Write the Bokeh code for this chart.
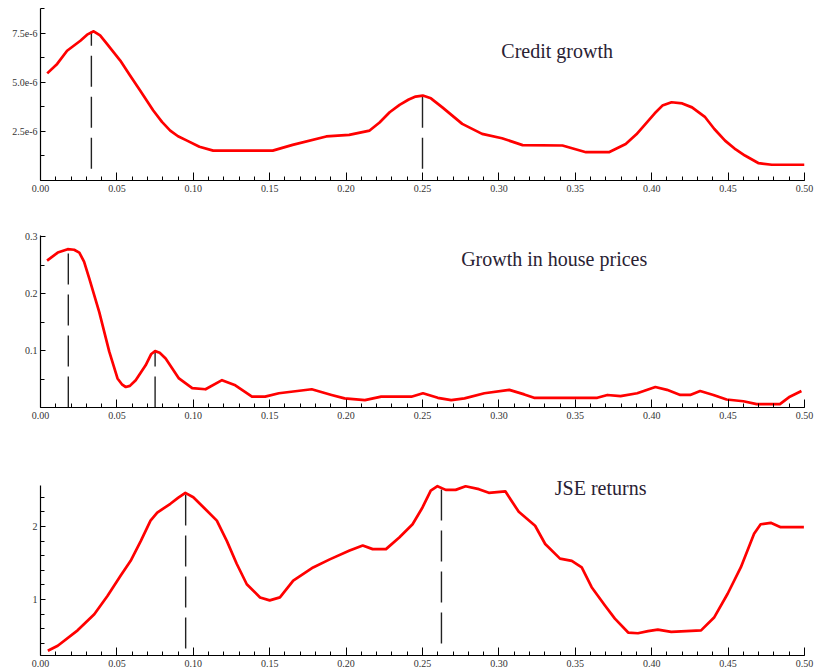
import numpy as np
from bokeh.plotting import figure
from bokeh.layouts import column
from bokeh.models import (Range1d, FixedTicker, PrintfTickFormatter,
                          CustomJSTickFormatter, Label)
from bokeh.embed import file_html
from bokeh.resources import INLINE

# ---------------- data ----------------
credit_freq = [0.0044, 0.0109, 0.0174, 0.0261, 0.0305, 0.0348, 0.039, 0.0435, 0.0522, 0.0585,
               0.0653, 0.0738, 0.0795, 0.0849, 0.090, 0.0959, 0.104, 0.113, 0.152, 0.165,
               0.187, 0.202, 0.2154, 0.2219, 0.2285, 0.235, 0.241, 0.2455, 0.2502, 0.2555,
               0.263, 0.276, 0.289, 0.302, 0.3155, 0.3416, 0.357, 0.372, 0.383, 0.390,
               0.396, 0.402, 0.407, 0.413, 0.420, 0.4264, 0.435, 0.441, 0.448, 0.455,
               0.461, 0.470, 0.4786, 0.5]
credit_val = [5.45e-6, 5.93e-6, 6.6e-6, 7.11e-6, 7.42e-6, 7.59e-6, 7.38e-6, 6.95e-6, 6.1e-6, 5.35e-6,
              4.57e-6, 3.56e-6, 2.98e-6, 2.54e-6, 2.25e-6, 2.03e-6, 1.72e-6, 1.52e-6, 1.52e-6, 1.81e-6,
              2.24e-6, 2.32e-6, 2.54e-6, 2.95e-6, 3.47e-6, 3.85e-6, 4.12e-6, 4.27e-6, 4.32e-6, 4.18e-6,
              3.72e-6, 2.88e-6, 2.37e-6, 2.15e-6, 1.80e-6, 1.78e-6, 1.44e-6, 1.44e-6, 1.86e-6, 2.35e-6,
              2.88e-6, 3.42e-6, 3.81e-6, 3.98e-6, 3.92e-6, 3.72e-6, 3.22e-6, 2.62e-6, 2.03e-6, 1.58e-6,
              1.27e-6, 0.88e-6, 0.80e-6, 0.80e-6]
credit_peak_freq = [0.0333, 0.25]
credit_peak_top = [7.59e-6, 4.32e-6]
credit_peak_bottom = [0.6e-6, 0.6e-6]

house_freq = [0.0043, 0.0113, 0.0178, 0.022, 0.0254, 0.0285, 0.032, 0.0385, 0.045, 0.0504,
              0.0535, 0.0558, 0.0585, 0.0623, 0.0688, 0.0725, 0.075, 0.078, 0.0819, 0.0906,
              0.0993, 0.108, 0.1188, 0.1275, 0.1384, 0.147, 0.156, 0.1775, 0.1905, 0.199,
              0.2123, 0.223, 0.2427, 0.2503, 0.26, 0.2688, 0.2775, 0.2905, 0.3068, 0.3166,
              0.323, 0.3644, 0.371, 0.3796, 0.3905, 0.4024, 0.41, 0.4187, 0.4252, 0.4317,
              0.4404, 0.449, 0.46, 0.4687, 0.4839, 0.4904, 0.498]
house_val = [0.258, 0.272, 0.278, 0.277, 0.272, 0.256, 0.226, 0.167, 0.098, 0.051,
             0.040, 0.036, 0.038, 0.048, 0.074, 0.094, 0.099, 0.096, 0.086, 0.051,
             0.034, 0.032, 0.048, 0.039, 0.019, 0.019, 0.025, 0.032, 0.022, 0.016,
             0.013, 0.019, 0.019, 0.025, 0.017, 0.013, 0.016, 0.025, 0.031, 0.023,
             0.017, 0.017, 0.022, 0.020, 0.025, 0.036, 0.031, 0.022, 0.022, 0.029,
             0.022, 0.014, 0.011, 0.006, 0.006, 0.019, 0.029]
house_peak_freq = [0.0182, 0.075]
house_peak_top = [0.278, 0.099]
house_peak_bottom = [0.0, 0.0]

jse_freq = [0.0048, 0.0113, 0.0243, 0.0352, 0.0438, 0.0525, 0.059, 0.0656, 0.072, 0.0764,
            0.085, 0.090, 0.0948, 0.100, 0.1068, 0.1154, 0.122, 0.1284, 0.135, 0.1437,
            0.150, 0.1567, 0.1654, 0.1784, 0.1893, 0.2023, 0.2109, 0.2174, 0.2261, 0.2348,
            0.2435, 0.25, 0.2554, 0.2598, 0.2652, 0.2717, 0.2782, 0.2869, 0.2934, 0.3042,
            0.313, 0.3237, 0.3303, 0.34, 0.3477, 0.3542, 0.3607, 0.3694, 0.3759, 0.3846,
            0.391, 0.3976, 0.404, 0.4128, 0.4323, 0.441, 0.4497, 0.4583, 0.467, 0.4713,
            0.4779, 0.4844, 0.4996]
jse_val = [0.30, 0.37, 0.58, 0.80, 1.05, 1.33, 1.53, 1.80, 2.08, 2.19,
           2.31, 2.39, 2.46, 2.40, 2.26, 2.08, 1.80, 1.49, 1.21, 1.03,
           0.99, 1.03, 1.26, 1.44, 1.55, 1.67, 1.74, 1.69, 1.69, 1.85,
           2.03, 2.26, 2.49, 2.55, 2.50, 2.50, 2.55, 2.51, 2.46, 2.48,
           2.20, 2.01, 1.76, 1.56, 1.53, 1.44, 1.17, 0.92, 0.74, 0.55,
           0.54, 0.57, 0.59, 0.56, 0.58, 0.76, 1.08, 1.44, 1.90, 2.03,
           2.05, 1.99, 1.99]
jse_peak_freq = [0.095, 0.2624]
jse_peak_top = [2.46, 2.55]
jse_peak_bottom = [0.33, 0.40]

x_ticks = [0.0, 0.05, 0.10, 0.15, 0.20, 0.25, 0.30, 0.35, 0.40, 0.45, 0.50]
x_minor = [i / 100 for i in range(0, 51)]

titles = ["Credit growth", "Growth in house prices", "JSE returns"]

RED = "#ff0000"
SERIF = "Liberation Serif"


def make_panel(freq, val, pk_f, pk_top, pk_bot, yr, ybounds, yticks, yminor, yfmt, title,
               title_xy, height, top, bottom, left, right):
    p = figure(width=815, height=height, x_range=Range1d(0, 0.5), y_range=Range1d(*yr),
               output_backend="svg", toolbar_location=None,
               min_border_top=top, min_border_bottom=bottom,
               min_border_left=left, min_border_right=right)
    p.grid.visible = False
    p.outline_line_color = None
    p.background_fill_color = "white"
    p.border_fill_color = "white"

    p.xaxis.ticker = FixedTicker(ticks=x_ticks, minor_ticks=x_minor)
    p.xaxis.formatter = PrintfTickFormatter(format="%.2f")
    p.yaxis.ticker = FixedTicker(ticks=yticks, minor_ticks=yminor)
    p.yaxis.formatter = yfmt
    p.yaxis.bounds = ybounds
    for ax in (p.xaxis[0], p.yaxis[0]):
        ax.axis_line_color = "black"
        ax.axis_line_width = 1.2
        ax.major_tick_line_color = "black"
        ax.minor_tick_line_color = "black"
        ax.major_tick_out = 0
        ax.minor_tick_out = 0
        ax.major_label_text_font = SERIF
        ax.major_label_text_font_size = "10px"
        ax.major_label_text_color = "#333333"
    p.xaxis.major_tick_in = 8
    p.xaxis.minor_tick_in = 4
    p.xaxis.major_label_standoff = 4
    p.yaxis.major_tick_in = 5
    p.yaxis.minor_tick_in = 4
    p.yaxis.major_label_standoff = 3

    p.segment(x0=pk_f, y0=pk_bot, x1=pk_f, y1=pk_top, line_color="#222222",
              line_width=1.4, line_dash="31 10")
    p.line(freq, val, line_color=RED, line_width=2.7, line_join="round")

    p.add_layout(Label(x=title_xy[0], y=title_xy[1], text=title, text_font=SERIF,
                       text_font_size="20px", text_color="#2a2233",
                       text_baseline="middle"))
    return p


p1 = make_panel(credit_freq, credit_val, credit_peak_freq, credit_peak_top, credit_peak_bottom,
                (0, 8.75e-6), (0, 8.75e-6), [2.5e-6, 5.0e-6, 7.5e-6],
                [1.25e-6, 3.75e-6, 6.25e-6, 8.75e-6],
                CustomJSTickFormatter(code="return (tick*1e6).toFixed(1) + 'e-6';"),
                titles[0], (0.3016, 6.61e-6), 200, 8, 20, 40, 9)
p2 = make_panel(house_freq, house_val, house_peak_freq, house_peak_top, house_peak_bottom,
                (0, 0.302), (0, 0.302), [0.1, 0.2, 0.3], [0.05, 0.15, 0.25],
                PrintfTickFormatter(format="%.1f"),
                titles[1], (0.2753, 0.2616), 227, 35, 20, 38, 11)
p3 = make_panel(jse_freq, jse_val, jse_peak_freq, jse_peak_top, jse_peak_bottom,
                (0.236, 2.765), (0.236, 2.56), [1, 2],
                [0.4, 0.6, 0.8, 1.2, 1.4, 1.6, 1.8, 2.2, 2.4],
                PrintfTickFormatter(format="%.0f"),
                titles[2], (0.3366, 2.519), 244, 43, 16, 36, 11)

layout = column(p1, p2, p3, spacing=0)
open("out.html", "w").write(file_html(layout, INLINE))
